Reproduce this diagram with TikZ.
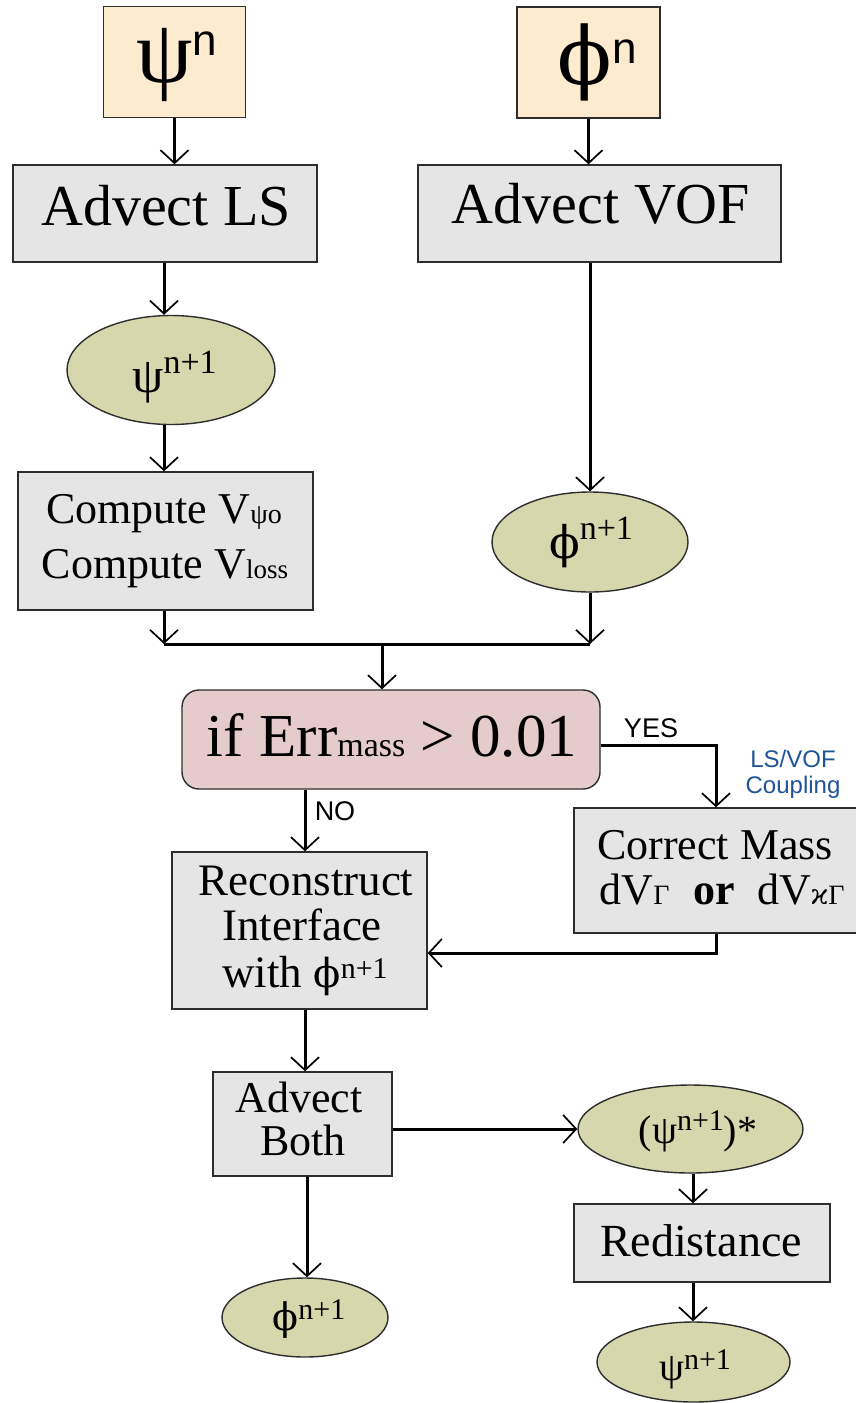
\documentclass[tikz,border=0pt]{standalone}
\usepackage{fontspec}
\setmainfont{Liberation Serif}
\newfontfamily\lsans{Liberation Sans}
\newfontfamily\dvserif{DejaVu Serif}
\usetikzlibrary{arrows.meta,shapes.geometric,calc}
\newcommand\fsz[1]{\fontsize{#1}{#1}\selectfont}
\newcommand\up[3]{\raisebox{#1pt}{\fsz{#2}#3}}
\newcommand\vphi{{\dvserif ϕ}}
\definecolor{boxgray}{RGB}{229,229,229}
\definecolor{boxorange}{RGB}{253,235,208}
\definecolor{boxolive}{RGB}{215,215,174}
\definecolor{boxpink}{RGB}{230,203,204}
\definecolor{edgegray}{RGB}{45,45,45}
\definecolor{couplingblue}{RGB}{31,84,150}
\tikzset{
  rbox/.style={draw=edgegray, line width=1.4pt, fill=boxgray, rectangle,
    inner sep=0pt, minimum width=#1},
  obox/.style={rbox=#1, fill=boxorange},
  oval/.style={draw=edgegray, line width=1.4pt, fill=boxolive, ellipse,
    inner sep=0pt},
  txt/.style={anchor=base, inner sep=0pt},
  flow/.style={line width=3pt, draw=black,
    -{Straight Barb[length=13pt,width=28pt,line width=1.7pt]}},
  line/.style={line width=3pt, draw=black}
}
\begin{document}
\begin{tikzpicture}[x=1pt,y=-1pt]
\useasboundingbox (0,0) rectangle (856,1403);

% ---- boxes and ovals ----
\node[obox=142pt, minimum height=111pt] (psin) at (174.5,62) {};
\node[obox=143pt, minimum height=111pt] (phin) at (588.5,62.5) {};
\node[rbox=304pt, minimum height=97pt] (advls) at (165,213.5) {};
\node[rbox=363pt, minimum height=97pt] (advvof) at (599.5,213.5) {};
\node[oval, minimum width=208pt, minimum height=109pt] (psinp) at (171,370) {};
\node[rbox=295pt, minimum height=138pt] (compute) at (165.5,541) {};
\node[oval, minimum width=196pt, minimum height=100pt] (phinp) at (590,542) {};
\node[rbox=418pt, minimum height=99pt, rounded corners=17pt, fill=boxpink] (iferr) at (391,739.5) {};
\node[rbox=284pt, minimum height=125pt] (correct) at (716,870.5) {};
\node[rbox=255pt, minimum height=157pt] (recon) at (299.5,930.5) {};
\node[rbox=179pt, minimum height=104pt] (advboth) at (302.5,1124) {};
\node[oval, minimum width=225pt, minimum height=88pt] (psistar) at (690.5,1129) {};
\node[oval, minimum width=166pt, minimum height=79pt] (phifin) at (305,1317.5) {};
\node[rbox=256pt, minimum height=78pt] (redist) at (702,1243) {};
\node[oval, minimum width=193pt, minimum height=80pt] (psifin) at (693.5,1362) {};

% ---- texts ----
\node[txt] (tpsin) at (177,82) {\fsz{90}ψ\up{27}{44}{\lsans n}};
\node[txt] (tphin) at (597,84) {\fsz{80}\vphi\up{21}{44}{\lsans n}};
\node[txt] (tadvls) at (166,225) {\fsz{58}Advect LS};
\node[txt] (tadvvof) at (601,223) {\fsz{58}Advect VOF};
\node[txt] (tpsinp) at (174.5,392) {\fsz{50}ψ\up{19}{34}{n+1}};
\node[txt] (tcomp1) at (164,523) {\fsz{44}Compute V{\fsz{28}ψo}};
\node[txt] (tcomp2) at (165,578) {\fsz{44}Compute V{\fsz{27}loss}};
\node[txt] (tphinp) at (591,558) {\fsz{45}\vphi\up{19}{34}{n+1}};
\node[txt] (tif) at (392,756) {\fsz{61}if Err{\fsz{34}mass} \textgreater{} 0.01};
\node[txt] (tyes) at (651,737) {\lsans\fsz{27}YES};
\node[txt, text=couplingblue] (tls) at (793,767) {\lsans\fsz{24}LS/VOF};
\node[txt, text=couplingblue] (tcoup) at (793,793) {\lsans\fsz{24}Coupling};
\node[txt] (tno) at (335,820) {\lsans\fsz{27}NO};
\node[txt] (tcm1) at (715,859) {\fsz{44}Correct Mass};
\node[txt] (tcm2) at (722,904) {\fsz{44}dV{\fsz{28}Γ}\hspace*{24pt}\textbf{or}\hspace*{22pt}dV{\fsz{28}\dvserif ϰ}{\fsz{28}Γ}};
\node[txt] (trec1) at (306,895) {\fsz{45}Reconstruct};
\node[txt] (trec2) at (302,940) {\fsz{45}Interface};
\node[txt] (trec3) at (305,987) {\fsz{45}with \fsz{40}\vphi\up{9}{30}{n+1}};
\node[txt] (tab1) at (299,1112) {\fsz{44}Advect};
\node[txt] (tab2) at (303,1155) {\fsz{44}Both};
\node[txt] (tpsistar) at (698,1143) {\fsz{40}(ψ\up{13}{30}{n+1})*};
\node[txt] (tredist) at (701,1256) {\fsz{46}Redistance};
\node[txt] (tphifin) at (309,1330) {\fsz{38}\vphi\up{11}{30}{n+1}};
\node[txt] (tpsifin) at (695,1380) {\fsz{40}ψ\up{11}{30}{n+1}};

% ---- connector helpers ----
\coordinate (join) at (382,644);
\coordinate (nox) at (305,0);
\coordinate (yesy) at (0,745);
\coordinate (backy) at (0,953);
\coordinate (lx) at (164,0);
\coordinate (rx) at (590,0);
\coordinate (sx) at (693,0);
\coordinate (bx) at (307,0);

% ---- connectors ----
\draw[flow] (psin.south) -- (advls.north -| psin.south);
\draw[flow] (phin.south) -- (advvof.north -| phin.south);
\draw[flow] (advls.south -| lx) -- (psinp.north -| lx);
\draw[flow] (psinp.south -| lx) -- (compute.north -| lx);
\draw[flow] (advvof.south -| rx) -- (phinp.north -| rx);
\draw[flow] (compute.south -| lx) -- (join -| lx);
\draw[flow] (phinp.south -| rx) -- (join -| rx);
\draw[line] (join -| lx) -- (join -| rx);
\draw[flow] (join) -- (iferr.north -| join);
\draw[flow] (iferr.east |- yesy) -| (correct.north);
\draw[flow] (iferr.south -| nox) -- (recon.north -| nox);
\draw[flow] (correct.south) |- (recon.east |- backy);
\draw[flow] (recon.south -| nox) -- (advboth.north -| nox);
\draw[flow] (advboth.east |- psistar.west) -- (psistar.west);
\draw[flow] (advboth.south -| bx) -- (phifin.north -| bx);
\draw[flow] (psistar.south -| sx) -- (redist.north -| sx);
\draw[flow] (redist.south -| sx) -- (psifin.north -| sx);
\end{tikzpicture}
\end{document}
